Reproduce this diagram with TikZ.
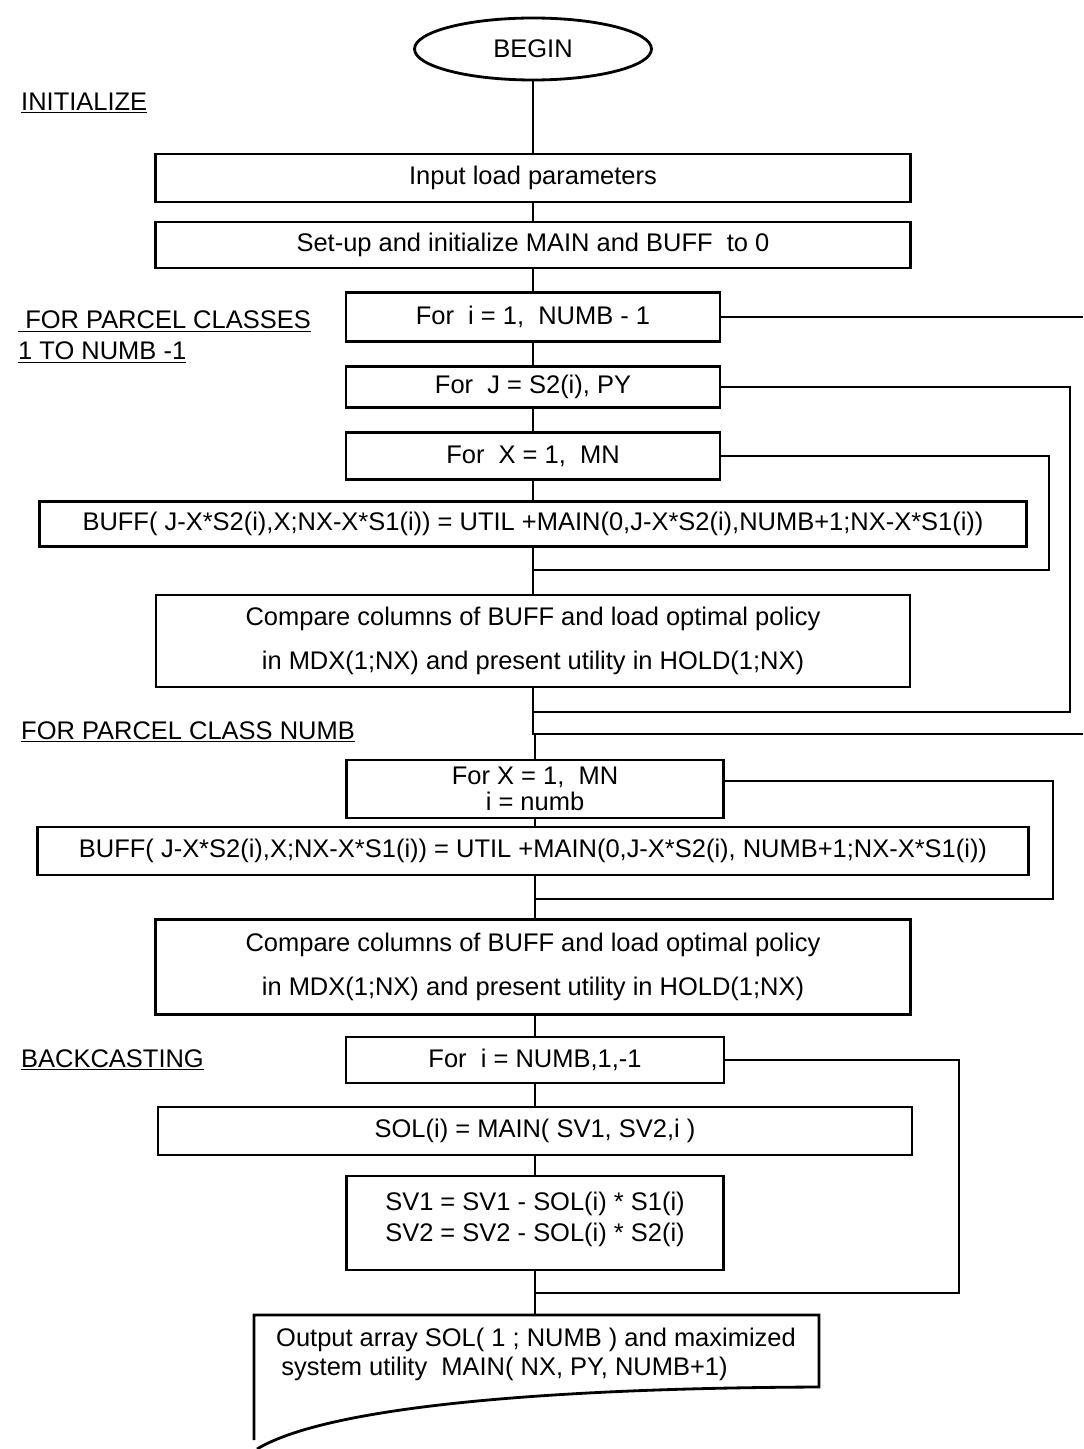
\documentclass[tikz,border=0pt]{standalone}
\usepackage{fontspec}
\setmainfont{Liberation Sans}
\usetikzlibrary{shapes.geometric,calc}

\begin{document}
\begin{tikzpicture}[x=0.02cm,y=-0.02cm,
    box/.style={draw,rectangle,line width=1.6pt,inner sep=2pt,align=center,font=\fontsize{14.5}{17.4}\selectfont},
    lbl/.style={anchor=west,align=left,font=\fontsize{14.5}{17.4}\selectfont},
    flow/.style={line width=1.6pt}]
        \useasboundingbox (0,0) rectangle (1083,1449);
        % start and initialization
        \node[box,ellipse,minimum width=4.74cm,minimum height=1.24cm] (begin) at (533,49) {BEGIN};
        \node[box,minimum width=15.1cm,minimum height=0.96cm] (input) at (533,178) {Input load parameters};
        \node[box,minimum width=15.1cm,minimum height=0.92cm] (setup) at (533,245) {Set-up and initialize MAIN and BUFF\ \ to 0};
        % parcel classes 1 to NUMB-1
        \node[box,minimum width=7.48cm,minimum height=0.98cm] (fori) at (533,317) {For\ \ i = 1,\ \ NUMB - 1};
        \node[box,minimum width=7.48cm,minimum height=0.82cm] (forj) at (533,387) {For\ \ J = S2(i), PY};
        \node[box,minimum width=7.48cm,minimum height=0.94cm] (forx) at (533,456) {For\ \ X = 1,\ \ MN};
        \node[box,minimum width=19.74cm,minimum height=0.9cm] (buff) at (533,524) {BUFF( J-X*S2(i),X;NX-X*S1(i)) = UTIL +MAIN(0,J-X*S2(i),NUMB+1;NX-X*S1(i))};
        \node[box,minimum width=15.08cm,minimum height=1.84cm] (compare) at (533,641) {Compare columns of BUFF and load optimal policy\\[8pt] in MDX(1;NX) and present utility in HOLD(1;NX)};
        % parcel class NUMB
        \node[box,minimum width=7.54cm,minimum height=1.16cm] (forxn) at (535,789) {For X = 1,\ \ MN\\[-3pt] i = numb};
        \node[box,minimum width=19.82cm,minimum height=0.96cm] (buffn) at (533,851) {BUFF( J-X*S2(i),X;NX-X*S1(i)) = UTIL +MAIN(0,J-X*S2(i), NUMB+1;NX-X*S1(i))};
        \node[box,minimum width=15.1cm,minimum height=1.9cm] (comparen) at (533,967) {Compare columns of BUFF and load optimal policy\\[8pt] in MDX(1;NX) and present utility in HOLD(1;NX)};
        % backcasting
        \node[box,minimum width=7.56cm,minimum height=0.92cm] (forb) at (535,1060) {For\ \ i = NUMB,1,-1};
        \node[box,minimum width=15.08cm,minimum height=0.96cm] (sol) at (535,1131) {SOL(i) = MAIN( SV1, SV2,i )};
        \node[box,minimum width=7.54cm,minimum height=1.88cm] (sv) at (535,1223) {SV1 = SV1 - SOL(i) * S1(i)\\ SV2 = SV2 - SOL(i) * S2(i)\\[-10pt]\mbox{}};
        % output document
        \draw[flow] (254,1440) -- (254,1315) -- (819,1315) -- (819,1387) .. controls (560,1388) and (330,1405) .. (257,1449);
        \node[lbl,anchor=center] (output) at (536,1354) {Output array SOL( 1 ; NUMB ) and maximized\\[-1pt]\hspace{3pt}system utility\ \ MAIN( NX, PY, NUMB+1)};
        \coordinate (outtop) at (535,1315);
        % section labels
        \node[lbl] (init) at (15,103) {\underline{INITIALIZE}};
        \node[lbl] (classes) at (12,337) {\underline{\ FOR PARCEL CLASSES}\\\underline{1 TO NUMB -1}};
        \node[lbl] (classn) at (15,732) {\underline{FOR PARCEL CLASS NUMB}};
        \node[lbl] (back) at (15,1060) {\underline{BACKCASTING}};
        % junctions on the main line
        \coordinate (retx) at (533,570);
        \coordinate (retj) at (533,712);
        \coordinate (reti) at (533,734);
        \coordinate (retxn) at (535,899);
        \coordinate (retb) at (535,1293);
        \coordinate (cornx) at (1049,570);
        \coordinate (cornj) at (1070,712);
        \coordinate (offi) at (1083,317);
        \coordinate (offr) at (1083,734);
        \coordinate (cornxn) at (1053,899);
        \coordinate (cornb) at (959,1293);
        % main line
        \draw[flow] (begin) -- (input);
        \draw[flow] (input) -- (setup);
        \draw[flow] (setup) -- (fori);
        \draw[flow] (fori) -- (forj);
        \draw[flow] (forj) -- (forx);
        \draw[flow] (forx) -- (buff);
        \draw[flow] (buff.south -| retx) -- (compare.north -| retx);
        \draw[flow] (compare.south -| retj) -- (reti) -- (reti -| retxn) -- (forxn.north -| retxn);
        \draw[flow] (forxn.south -| retxn) -- (buffn.north -| retxn);
        \draw[flow] (buffn.south -| retxn) -- (comparen.north -| retxn);
        \draw[flow] (comparen.south -| forb) -- (forb);
        \draw[flow] (forb) -- (sol);
        \draw[flow] (sol) -- (sv);
        \draw[flow] (sv) -- (outtop);
        % loops
        \draw[flow] (fori.east) -- (offi);
        \draw[flow] (offr) -- (reti);
        \draw[flow] (forj.east) -| (cornj) -- (retj);
        \draw[flow] (forx.east) -| (cornx) -- (retx);
        \draw[flow] ([yshift=0.16cm]forxn.east) -| (cornxn) -- (retxn);
        \draw[flow] (forb.east) -| (cornb) -- (retb);
\end{tikzpicture}
\end{document}
